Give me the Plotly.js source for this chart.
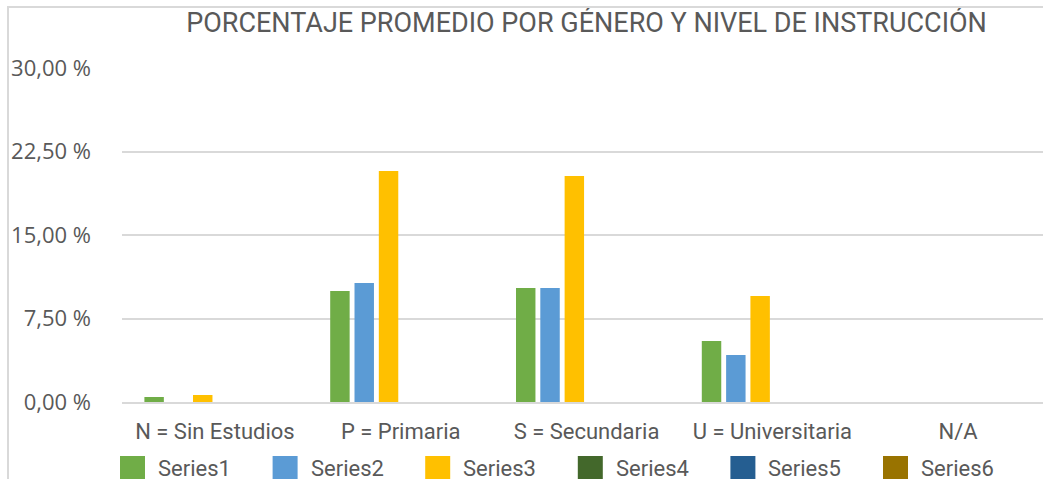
<!DOCTYPE html>
<html>
<head>
<meta charset="utf-8">
<script src="https://cdn.plot.ly/plotly-3.0.1.min.js"></script>
<style>
  html, body { margin: 0; padding: 0; overflow: hidden; background: #fff; width: 1043px; height: 479px; }
  #chart { position: absolute; left: 0; top: 0; width: 1180px; height: 520px; }
  #frame { position: absolute; left: 7px; top: 6px; width: 1300px; height: 700px; border: 2px solid #d9d9d9; pointer-events: none; }
</style>
</head>
<body>
<div id="chart"></div>
<div id="frame"></div>
<script>
const titleText = "PORCENTAJE PROMEDIO POR GÉNERO Y NIVEL DE INSTRUCCIÓN";
const categories = ["N = Sin Estudios", "P = Primaria", "S = Secundaria", "U = Universitaria", "N/A"];
const seriesNames = ["Series1", "Series2", "Series3", "Series4", "Series5", "Series6"];
const series1 = [0.45, 9.97, 10.24, 5.48, 0];
const series2 = [0, 10.69, 10.24, 4.22, 0];
const series3 = [0.63, 20.75, 20.3, 9.52, 0];
const series4 = [0, 0, 0, 0, 0];
const series5 = [0, 0, 0, 0, 0];
const series6 = [0, 0, 0, 0, 0];
const seriesValues = [series1, series2, series3, series4, series5, series6];
const seriesColors = ["#70AD47", "#5B9BD5", "#FFC000", "#43682B", "#255E91", "#997300"];

const W = 1180, H = 520;
const mL = 122, mR = W - 1051, mT = 68, mB = H - 402;
const plotW = W - mL - mR, plotH = H - mT - mB;
const textColor = "#595959";
const fontFam = "Roboto, 'Open Sans', sans-serif";
const tickFam = "'Open Sans', Roboto, sans-serif";

const traces = seriesNames.map((name, i) => ({
  type: "bar",
  name: name,
  x: categories,
  y: seriesValues[i],
  marker: { color: seriesColors[i] },
  hoverinfo: "x+y+name",
  showlegend: false
}));

// custom legend (large swatches like the original)
const shapes = [];
const annotations = [];
const legStartPx = 120, legStepPx = 152.6, swatchW = 25, swatchTop = 456, swatchBot = 482, legMidY = 468;
seriesNames.forEach((name, i) => {
  const x0px = legStartPx + i * legStepPx;
  shapes.push({
    type: "rect", xref: "paper", yref: "paper",
    x0: (x0px - mL) / plotW, x1: (x0px + swatchW - mL) / plotW,
    y0: (402 - swatchBot) / plotH, y1: (402 - swatchTop) / plotH,
    fillcolor: seriesColors[i], line: { width: 0 }
  });
  annotations.push({
    xref: "paper", yref: "paper",
    x: (x0px + 36 - mL) / plotW, y: (402 - legMidY) / plotH,
    xanchor: "left", yanchor: "middle", showarrow: false,
    text: name, font: { family: fontFam, size: 22, color: textColor }
  });
});

const layout = {
  width: W, height: H,
  margin: { l: mL, r: mR, t: mT, b: mB, pad: 0 },
  paper_bgcolor: "#ffffff", plot_bgcolor: "#ffffff",
  separators: ",.",
  barmode: "group",
  bargap: 0.215,
  bargroupgap: 0.2,
  showlegend: false,
  title: {
    text: titleText,
    font: { family: fontFam, size: 27, color: textColor },
    x: (586.5) / W, xanchor: "center", xref: "container",
    y: 1 - 23 / H, yanchor: "middle", yref: "container"
  },
  xaxis: {
    type: "category",
    showgrid: false,
    showline: true, linecolor: "#d9d9d9", linewidth: 2,
    ticks: "", ticklabelstandoff: 9,
    tickfont: { family: fontFam, size: 22, color: textColor },
    zeroline: false
  },
  yaxis: {
    range: [0, 30],
    tickmode: "linear", tick0: 0, dtick: 7.5,
    tickformat: ".2f", ticksuffix: " %",
    showgrid: true, gridcolor: "#d9d9d9", gridwidth: 2,
    zeroline: false, showline: false,
    ticks: "", ticklabelstandoff: 30,
    tickfont: { family: tickFam, size: 22, color: textColor }
  },
  shapes: shapes,
  annotations: annotations
};

Plotly.newPlot("chart", traces, layout, { displayModeBar: false, staticPlot: true });
</script>
</body>
</html>
